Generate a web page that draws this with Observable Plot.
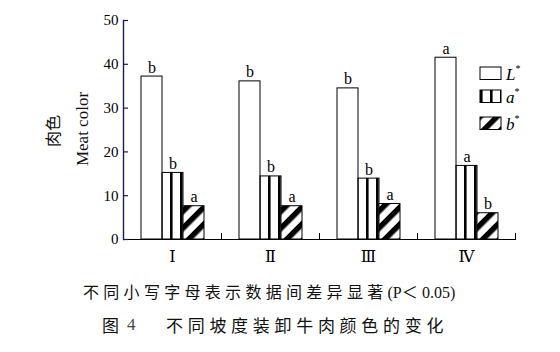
<!DOCTYPE html>
<html>
<head>
<meta charset="utf-8">
<script src="https://cdn.jsdelivr.net/npm/d3@7"></script>
<script src="https://cdn.jsdelivr.net/npm/@observablehq/plot@0.6"></script>
<style>
  html, body { margin: 0; padding: 0; background: #fff; }
  #wrap { position: relative; width: 560px; height: 352px; background: #fff; overflow: hidden; }
  #chart { position: absolute; left: 0; top: 0; }
  .cap { position: absolute; white-space: nowrap; color: #111; font-family: "Noto Sans CJK SC", sans-serif; }
  .serif { font-family: "Liberation Serif", "DejaVu Serif", serif; }
  .ytitle { position: absolute; white-space: nowrap; color: #111; transform: translate(-50%, -50%) rotate(-90deg); line-height: 1; }
  #legend { position: absolute; left: 470px; top: 55px; }
</style>
</head>
<body>
<div id="wrap">
  <div id="chart"></div>
  <div class="ytitle" style="left:52px; top:131px; font-family:'Noto Sans CJK SC', sans-serif; font-size:16px;">肉色</div>
  <div class="ytitle serif" style="left:82px; top:129px; font-size:17px;">Meat color</div>
  <div class="cap" style="left:83px; top:280px; font-size:16px; letter-spacing:4.3px; line-height:22px;">不同小写字母表示数据间差异显著<span class="serif" style="letter-spacing:0">(P</span>＜<span class="serif" style="letter-spacing:0">0.05)</span></div>
  <div class="cap" style="left:102px; top:313px; font-size:17px; line-height:24px;">图</div>
  <div class="cap serif" style="left:127px; top:313px; font-size:17px; line-height:24px; color:#444;">4</div>
  <div class="cap" style="left:166px; top:313px; font-size:17px; letter-spacing:4.7px; line-height:24px;">不同坡度装卸牛肉颜色的变化</div>
</div>
<script>
const groups = ["Ⅰ", "Ⅱ", "Ⅲ", "Ⅳ"];
const seriesNames = ["L*", "a*", "b*"];
const valuesL = [37.2, 36.1, 34.5, 41.5];
const valuesA = [15.2, 14.4, 13.9, 16.8];
const valuesB = [7.6, 7.6, 8.1, 6.0];
const lettersL = ["b", "b", "b", "a"];
const lettersA = ["b", "b", "b", "a"];
const lettersB = ["a", "a", "a", "b"];
const yTicks = [0, 10, 20, 30, 40, 50];

const rows = groups.flatMap((g, i) => [
  {group: g, series: seriesNames[0], value: valuesL[i], letter: lettersL[i]},
  {group: g, series: seriesNames[1], value: valuesA[i], letter: lettersA[i]},
  {group: g, series: seriesNames[2], value: valuesB[i], letter: lettersB[i]}
]);
const tickRows = yTicks.map(t => ({group: groups[0], value: t}));

const serif = "Liberation Serif, DejaVu Serif, serif";
const W = 560, H = 268, mL = 123, mR = 45, mT = 20, mB = 29;
const facetW = (W - mL - mR) / groups.length;
const tickLen = 5;
const axisInk = "#1a1a5e";

function addPatterns(sel, idA, idB) {
  const defs = sel.insert("defs", ":first-child");
  const pa = defs.append("pattern").attr("id", idA).attr("patternUnits", "userSpaceOnUse")
    .attr("width", 10).attr("height", 10);
  pa.append("rect").attr("width", 10).attr("height", 10).attr("fill", "white");
  pa.append("rect").attr("x", 0).attr("width", 2.6).attr("height", 10).attr("fill", "black");
  const pb = defs.append("pattern").attr("id", idB).attr("patternUnits", "userSpaceOnUse")
    .attr("width", 12).attr("height", 12).attr("patternTransform", "rotate(45)");
  pb.append("rect").attr("width", 12).attr("height", 12).attr("fill", "white");
  pb.append("rect").attr("x", 0).attr("width", 5.5).attr("height", 12).attr("fill", "black");
}

const chart = Plot.plot({
  width: W,
  height: H,
  marginLeft: mL,
  marginRight: mR,
  marginTop: mT,
  marginBottom: mB,
  style: {fontFamily: serif, fontSize: "15px", background: "white", color: "black"},
  fx: {domain: groups, padding: 0, label: null},
  x: {domain: seriesNames, paddingInner: 0, paddingOuter: 0.77, axis: null},
  y: {domain: [0, 50]},
  color: {domain: seriesNames, range: ["white", "url(#patA)", "url(#patB)"]},
  marks: [
    Plot.barY(rows, {fx: "group", x: "series", y: "value", fill: "series", stroke: "black", strokeWidth: 1}),
    Plot.text(rows, {fx: "group", x: "series", y: "value", text: "letter", dy: -4, lineAnchor: "bottom", fontSize: 16, fontFamily: serif, fill: "black"}),
    Plot.ruleY([0], {stroke: "black", strokeWidth: 1.2}),
    Plot.frame({anchor: "right", insetTop: (H - mT - mB) - 6, stroke: "black", strokeWidth: 1}),
    Plot.frame({anchor: "left", facet: "super", stroke: axisInk, strokeWidth: 1.4}),
    Plot.tickY(tickRows, {fx: "group", y: "value", insetRight: facetW - tickLen, stroke: axisInk, strokeWidth: 1.2}),
    Plot.axisY({ticks: yTicks, tickSize: 0, tickPadding: 5, fontSize: 15, fontFamily: serif, label: null}),
    Plot.axisFx({anchor: "bottom", tickSize: 0, tickPadding: 11, fontSize: 16, fontFamily: serif, label: null})
  ]
});

document.getElementById("chart").appendChild(chart);
addPatterns(d3.select(chart), "patA", "patB");

// legend in its own small SVG overlay
const legendFills = ["white", "url(#legA)", "url(#legB)"];
const legendY = [12, 35, 62];
const leg = d3.select("#wrap").append("svg").attr("id", "legend").attr("width", 80).attr("height", 90);
addPatterns(leg, "legA", "legB");
seriesNames.forEach((s, i) => {
  leg.append("rect").attr("x", 10).attr("y", legendY[i]).attr("width", 21).attr("height", 12.5)
    .attr("fill", legendFills[i]).attr("stroke", "black").attr("stroke-width", 1);
  const t = leg.append("text").attr("x", 36).attr("y", legendY[i] + 12.5)
    .attr("font-family", serif).attr("font-size", 17).attr("fill", "black");
  t.append("tspan").attr("font-style", "italic").text(s.charAt(0));
  t.append("tspan").attr("font-size", 10).attr("dy", -8).text("*");
});
</script>
</body>
</html>
